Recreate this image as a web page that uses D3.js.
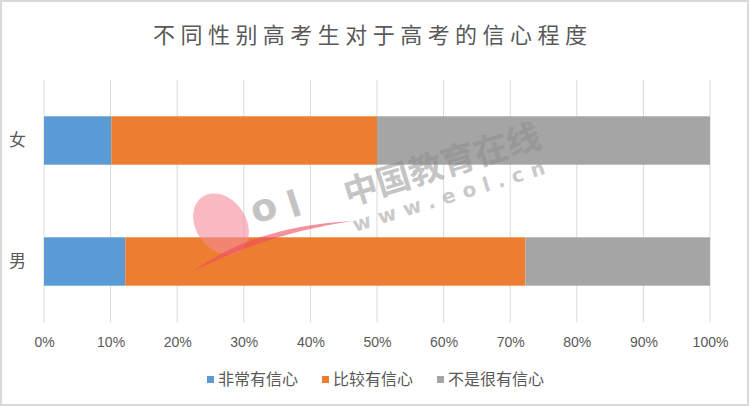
<!DOCTYPE html>
<html>
<head>
<meta charset="utf-8">
<script src="https://cdn.jsdelivr.net/npm/d3@7/dist/d3.min.js"></script>
<style>
  html, body { margin: 0; padding: 0; background: #fff; }
  svg { display: block; }
</style>
</head>
<body>
<svg id="chart" width="750" height="407"></svg>
<script>
const categories = ["女", "男"];
const seriesNames = ["非常有信心", "比较有信心", "不是很有信心"];
const seriesColors = ["#5B9BD5", "#ED7D31", "#A5A5A5"];
const veryConfident = [10.1, 12.2];
const fairlyConfident = [39.9, 60.1];
const notConfident = [50.0, 27.7];
const tickValues = [0, 10, 20, 30, 40, 50, 60, 70, 80, 90, 100];
const titleText = "不同性别高考生对于高考的信心程度";

const svg = d3.select("#chart");
const W = 750, H = 407;
const margin = { left: 44, right: 40, top: 80, bottom: 85 };
const cjk = "'Noto Sans CJK SC', 'Noto Sans', sans-serif";

// border
svg.append("rect").attr("x", 1).attr("y", 1).attr("width", W - 3).attr("height", H - 3)
  .attr("fill", "#fff").attr("stroke", "#D9D9D9").attr("stroke-width", 2);

const x = d3.scaleLinear().domain([0, 100]).range([margin.left, W - margin.right]);
const y = d3.scaleBand().domain(categories).range([margin.top, H - margin.bottom]).paddingInner(0.6).paddingOuter(0.3);

// gridlines
svg.append("g").selectAll("line").data(tickValues).join("line")
  .attr("x1", d => x(d)).attr("x2", d => x(d))
  .attr("y1", margin.top).attr("y2", H - margin.bottom)
  .attr("stroke", "#D9D9D9").attr("stroke-width", 1);

// stacked data
const rows = categories.map((c, i) => ({ cat: c, s0: veryConfident[i], s1: fairlyConfident[i], s2: notConfident[i] }));
const stack = d3.stack().keys(["s0", "s1", "s2"]);
const stacked = stack(rows);

stacked.forEach((layer, li) => {
  svg.append("g").selectAll("rect").data(layer).join("rect")
    .attr("x", d => x(d[0]))
    .attr("width", d => x(d[1]) - x(d[0]))
    .attr("y", d => y(d.data.cat))
    .attr("height", y.bandwidth())
    .attr("fill", seriesColors[li]);
});

// x axis labels
const xAxis = d3.axisBottom(x).tickValues(tickValues).tickFormat(d => d + "%").tickSize(0).tickPadding(15);
const gx = svg.append("g").attr("transform", `translate(0,${H - margin.bottom})`).call(xAxis);
gx.select(".domain").remove();
gx.selectAll("text").attr("fill", "#595959").style("font-size", "14px").style("font-family", "'Liberation Sans', Arial, sans-serif");

// y axis labels
const yAxis = d3.axisLeft(y).tickSize(0).tickPadding(18);
const gy = svg.append("g").attr("transform", `translate(${margin.left},0)`).call(yAxis);
gy.select(".domain").remove();
gy.selectAll("text").attr("fill", "#595959").style("font-size", "17px").style("font-family", cjk);

// title
svg.append("text").attr("x", 153).attr("y", 43)
  .attr("textLength", 434).attr("lengthAdjust", "spacing")
  .attr("fill", "#595959").style("font-size", "22px")
  .style("font-family", cjk).text(titleText);

// watermark
const wm = svg.append("g");
wm.append("ellipse").attr("cx", 221).attr("cy", 224).attr("rx", 25).attr("ry", 33)
  .attr("transform", "rotate(-35,221,224)").attr("fill", "#F48A9A").attr("opacity", 0.6);
wm.append("path").attr("d", "M192,272 Q255,226 352,221 Q265,234 192,272 Z").attr("fill", "#EE4A5E").attr("opacity", 0.6);
wm.append("text").attr("x", 255).attr("y", 224).attr("fill", "#9E9E9E").attr("opacity", 0.6)
  .style("font-size", "38px").style("font-family", "'DejaVu Sans', sans-serif").style("font-weight", "bold")
  .attr("transform", "rotate(-18,255,224)").text("o");
wm.append("text").attr("x", 292).attr("y", 218).attr("fill", "#9E9E9E").attr("opacity", 0.6)
  .style("font-size", "36px").style("font-family", "'DejaVu Sans', sans-serif").style("font-weight", "bold")
  .attr("transform", "rotate(-18,292,218)").text("l");
wm.append("text").attr("x", 348).attr("y", 206).attr("fill", "#8C8C8C").attr("opacity", 0.5)
  .style("font-size", "34px").style("font-family", cjk).style("font-weight", "bold")
  .attr("transform", "rotate(-17,348,206)").text("中国教育在线");
wm.append("text").attr("x", 355).attr("y", 232).attr("fill", "#8C8C8C").attr("opacity", 0.45)
  .attr("textLength", 200).attr("lengthAdjust", "spacing")
  .style("font-size", "20px").style("font-family", "'DejaVu Sans', sans-serif").style("font-weight", "bold")
  .attr("transform", "rotate(-17,355,232)").text("www.eol.cn");

// legend
const legendX = [207, 322, 437];
const lg = svg.append("g");
seriesNames.forEach((name, i) => {
  lg.append("rect").attr("x", legendX[i]).attr("y", 376).attr("width", 7).attr("height", 7).attr("fill", seriesColors[i]);
  lg.append("text").attr("x", legendX[i] + 11).attr("y", 385).attr("fill", "#595959")
    .style("font-size", "16px").style("font-family", cjk).text(name);
});
</script>
</body>
</html>
